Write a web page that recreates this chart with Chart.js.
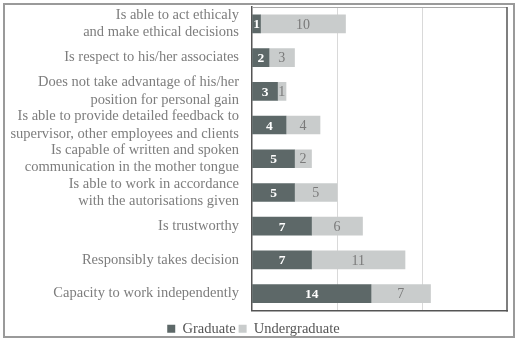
<!DOCTYPE html>
<html>
<head>
<meta charset="utf-8">
<script src="https://cdn.jsdelivr.net/npm/chart.js@4/dist/chart.umd.min.js"></script>
<style>
  html, body { margin: 0; padding: 0; background: #fff; }
  #c { display: block; }
</style>
</head>
<body>
<canvas id="c" width="519" height="339"></canvas>
<script>
const categories = [
  ["Is able to act ethicaly", "and make ethical decisions"],
  "Is respect to his/her associates",
  ["Does not take advantage of his/her", "position for personal gain"],
  ["Is able to provide detailed feedback to", "supervisor, other employees and clients"],
  ["Is capable of written and spoken", "communication in the mother tongue"],
  ["Is able to work in accordance", "with the autorisations given"],
  "Is trustworthy",
  "Responsibly takes decision",
  "Capacity to work independently"
];
const graduate = [1, 2, 3, 4, 5, 5, 7, 7, 14];
const undergraduate = [10, 3, 1, 4, 2, 5, 6, 11, 7];
const seriesNames = ["Graduate", "Undergraduate"];

const FONT = "'Liberation Serif', 'Times New Roman', serif";
const DARK = '#5d6868';
const LIGHT = '#c9cccc';

const frame = {
  id: 'frame',
  afterLayout(chart) {
    if (chart.legend) {
      chart.legend.top += 7;
      chart.legend.bottom += 7;
    }
  },
  beforeDraw(chart) {
    const c = chart.ctx;
    c.save();
    c.fillStyle = '#fff';
    c.fillRect(0, 0, chart.width, chart.height);
    c.restore();
  },
  afterDraw(chart) {
    const c = chart.ctx, a = chart.chartArea;
    c.save();
    c.strokeStyle = '#9a9a9a';
    c.lineWidth = 2;
    c.strokeRect(4, 4, 510, 333);
    c.lineWidth = 1;
    c.strokeStyle = '#a8a8a8';
    c.beginPath(); c.moveTo(a.left, a.top + 0.5); c.lineTo(a.right, a.top + 0.5); c.stroke();
    c.strokeStyle = '#555';
    c.lineWidth = 1.5;
    c.beginPath(); c.moveTo(a.right, a.top); c.lineTo(a.right, a.bottom + 1); c.stroke();
    c.restore();
  }
};

const valueLabels = {
  id: 'valueLabels',
  afterDatasetsDraw(chart) {
    const c = chart.ctx;
    c.save();
    c.textAlign = 'center';
    c.textBaseline = 'middle';
    chart.data.datasets.forEach((ds, di) => {
      const meta = chart.getDatasetMeta(di);
      meta.data.forEach((el, i) => {
        const cx = (el.x + el.base) / 2;
        if (di === 0) {
          c.fillStyle = '#ffffff';
          c.font = 'bold 13.5px ' + FONT;
        } else {
          c.fillStyle = '#7a7a7a';
          c.font = '14px ' + FONT;
        }
        c.fillText(String(ds.data[i]), cx, el.y + 1);
      });
    });
    c.restore();
  }
};

new Chart(document.getElementById('c'), {
  type: 'bar',
  data: {
    labels: categories,
    datasets: [
      { label: seriesNames[0], data: graduate, backgroundColor: DARK, barThickness: 18 },
      { label: seriesNames[1], data: undergraduate, backgroundColor: LIGHT, barThickness: 18 }
    ]
  },
  options: {
    indexAxis: 'y',
    responsive: false,
    animation: false,
    layout: { padding: { top: 7, right: 12, left: 0, bottom: 0 } },
    scales: {
      x: {
        stacked: true,
        min: 0, max: 30,
        ticks: { display: false, stepSize: 10 },
        grid: {
          drawTicks: false,
          color: ctx => (ctx.tick && (ctx.tick.value === 10 || ctx.tick.value === 20)) ? '#d9d9d9' : 'rgba(0,0,0,0)'
        },
        border: { display: true, color: '#555', width: 1.5 },
        afterFit: s => { s.height = 1; s.paddingLeft = 0; s.paddingRight = 0; }
      },
      y: {
        stacked: true,
        grid: { display: false, drawTicks: false },
        border: { display: true, color: '#555', width: 1.5 },
        ticks: { color: '#7d7d7d', font: { family: FONT, size: 14.5 }, padding: 13, autoSkip: false },
        afterFit: s => { s.width = 252; s.paddingTop = 0; s.paddingBottom = 0; }
      }
    },
    plugins: {
      legend: {
        position: 'bottom',
        labels: {
          color: '#555',
          font: { family: FONT, size: 14.5 },
          boxWidth: 8, boxHeight: 8,
          padding: 3
        }
      },
      tooltip: { enabled: false }
    }
  },
  plugins: [frame, valueLabels]
});
</script>
</body>
</html>
